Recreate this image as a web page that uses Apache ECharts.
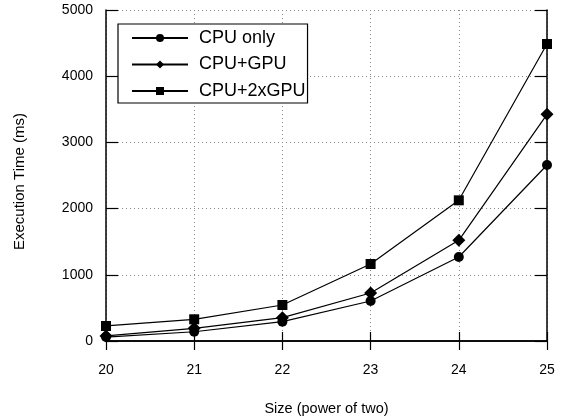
<!DOCTYPE html>
<html>
<head>
<meta charset="utf-8">
<script src="https://cdn.jsdelivr.net/npm/echarts@6/dist/echarts.min.js"></script>
<style>
  html, body { margin: 0; padding: 0; background: #fff; }
  #chart { width: 564px; height: 418px; }
</style>
</head>
<body>
<div id="chart"></div>
<script>
var sizes = [20, 21, 22, 23, 24, 25];
var cpuOnly = [60, 140, 292, 604, 1269, 2659];
var cpuGpu = [76, 191, 352, 725, 1521, 3424];
var cpu2Gpu = [227, 328, 544, 1163, 2125, 4486];
var seriesNames = ["CPU only", "CPU+GPU", "CPU+2xGPU"];

var chartDom = document.getElementById("chart");
var myChart = echarts.init(chartDom);

function pairs(vals) {
  return sizes.map(function (s, i) { return [s, vals[i]]; });
}

var font = "Liberation Sans, Arial, sans-serif";
var gridLine = { show: true, lineStyle: { color: "#888", type: [1, 3], width: 1 } };
var axLine = { show: true, lineStyle: { color: "#000", width: 1.5 } };
var plain = function (v) { return String(v); };
// square diamond, like gnuplot's
var diamond = "path://M0,-1L1,0L0,1L-1,0Z";

function mkSeries(name, vals, symbol, size) {
  return {
    name: name,
    type: "line",
    data: pairs(vals),
    symbol: symbol,
    symbolSize: size,
    symbolKeepAspect: true,
    showAllSymbol: true,
    lineStyle: { color: "#000", width: 1.2 },
    itemStyle: { color: "#000" },
    z: 3
  };
}

var option = {
  animation: false,
  grid: { left: 106, right: 17, top: 10, bottom: 77, outerBoundsMode: "none" },
  legend: {
    orient: "vertical",
    left: 118,
    top: 24,
    itemWidth: 56,
    itemHeight: 10,
    itemGap: 8.5,
    padding: [5, 2, 3, 13],
    backgroundColor: "#fff",
    borderColor: "#000",
    borderWidth: 1.2,
    textStyle: { fontFamily: font, fontSize: 18, color: "#000", padding: [0, 0, 0, 6] },
    data: seriesNames,
    z: 10
  },
  xAxis: [
    {
      type: "value", min: 20, max: 25, interval: 1,
      name: "Size (power of two)", nameLocation: "middle", nameGap: 60,
      nameTextStyle: { fontFamily: font, fontSize: 14.5, color: "#000" },
      axisLine: axLine,
      axisTick: { inside: true, length: 9, lineStyle: { color: "#000", width: 1.2 } },
      axisLabel: { fontFamily: font, fontSize: 14, color: "#000", margin: 22, formatter: plain },
      splitLine: gridLine
    },
    {
      type: "value", min: 20, max: 25, interval: 1, position: "top",
      axisLine: axLine,
      axisTick: { inside: true, length: 9, lineStyle: { color: "#000", width: 1.2 } },
      axisLabel: { show: false },
      splitLine: { show: false }
    }
  ],
  yAxis: [
    {
      type: "value", min: 0, max: 5000, interval: 1000,
      name: "Execution Time (ms)", nameLocation: "middle", nameGap: 79, nameRotate: 90,
      nameTextStyle: { fontFamily: font, fontSize: 15, color: "#000", padding: [0, 12, 0, 0] },
      axisLine: axLine,
      axisTick: { inside: true, length: 12, lineStyle: { color: "#000", width: 1.2 } },
      axisLabel: { fontFamily: font, fontSize: 14, color: "#000", margin: 13, formatter: plain },
      splitLine: gridLine
    },
    {
      type: "value", min: 0, max: 5000, interval: 1000, position: "right",
      axisLine: axLine,
      axisTick: { inside: true, length: 12, lineStyle: { color: "#000", width: 1.2 } },
      axisLabel: { show: false },
      splitLine: { show: false }
    }
  ],
  series: [
    mkSeries(seriesNames[0], cpuOnly, "circle", 10),
    mkSeries(seriesNames[1], cpuGpu, diamond, 13),
    mkSeries(seriesNames[2], cpu2Gpu, "rect", 10)
  ]
};

myChart.setOption(option);
window.addEventListener("resize", function () {
  myChart.resize();
});
</script>
</body>
</html>
